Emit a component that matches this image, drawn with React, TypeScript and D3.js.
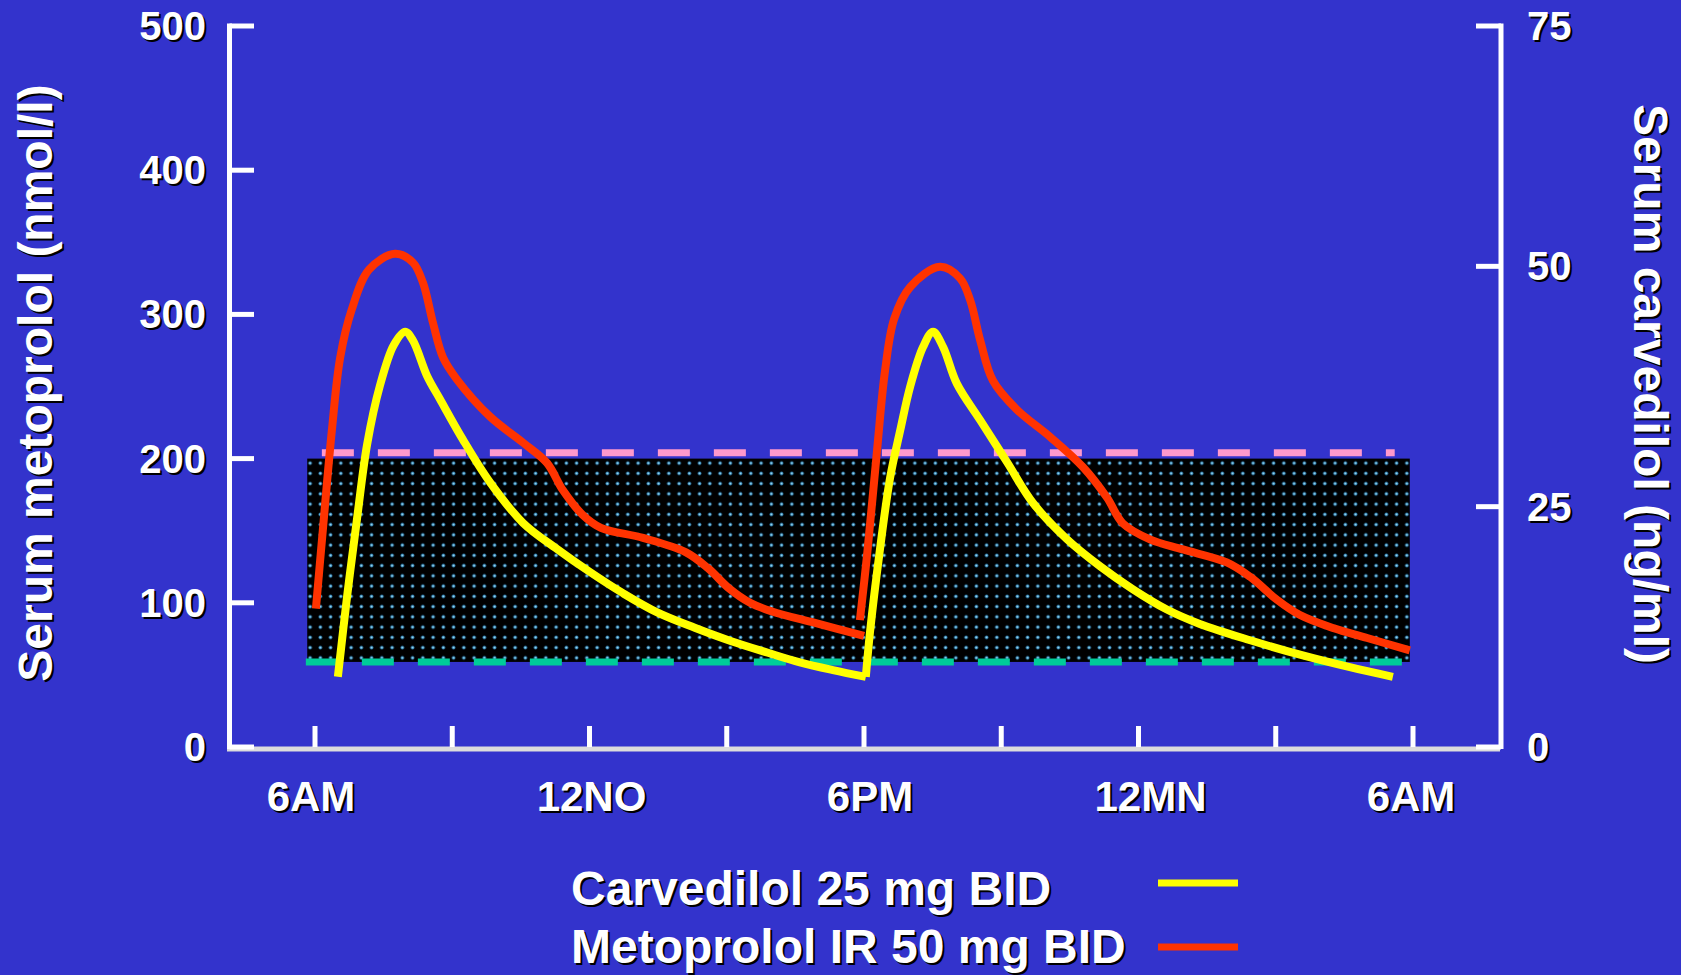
import React from "react";
import * as d3 from "d3";

// ---- Data ----
const leftTicks = [0, 100, 200, 300, 400, 500];
const rightTicks = [0, 25, 50, 75];
const xTickHours = [0, 3, 6, 9, 12, 15, 18, 21, 24];
const xLabelHours = [0, 6, 12, 18, 24];
const xLabelTexts = ["6AM", "12NO", "6PM", "12MN", "6AM"];

// Metoprolol (nmol/l), hours after 6AM
const metoHours1 = [0.02, 0.17, 0.37, 0.55, 0.8, 1.18, 1.75, 2.14, 2.36, 2.58, 2.8, 3.1, 3.83, 4.55, 5.07, 5.42, 5.85, 6.25, 7.17, 8.11, 8.59, 9.05, 9.51, 9.99, 10.93, 12.0];
const metoValues1 = [96, 150, 220, 270, 303, 331, 342, 336, 322, 294, 270, 255, 229, 211, 197, 178, 161, 152, 145, 135, 124, 110, 100, 94, 86, 77];
const metoHours2 = [11.91, 12.07, 12.28, 12.46, 12.66, 13.01, 13.66, 14.1, 14.32, 14.54, 14.82, 15.34, 16.07, 16.79, 17.31, 17.66, 18.25, 18.97, 19.93, 20.44, 21.03, 21.53, 22.25, 23.0, 23.93];
const metoValues2 = [88, 134, 204, 261, 297, 319, 333, 325, 310, 282, 254, 234, 215, 194, 173, 155, 144, 137, 128, 118, 102, 91.5, 82.5, 75.6, 67];

// Carvedilol (ng/ml)
const carvHours1 = [0.5, 0.7, 0.92, 1.14, 1.42, 1.72, 1.97, 2.14, 2.45, 2.73, 3.23, 3.83, 4.55, 5.29, 6.01, 6.73, 7.48, 8.3, 9.1, 9.9, 10.6, 11.32, 12.04];
const carvValues1 = [7.3, 15.6, 23.8, 31.5, 37.6, 41.8, 43.2, 42.3, 38.6, 36.2, 32.0, 27.5, 23.3, 20.6, 18.2, 16.0, 14.0, 12.4, 11.0, 9.8, 8.8, 8.0, 7.3];
const carvHours2 = [12.04, 12.13, 12.35, 12.57, 12.79, 13.01, 13.29, 13.51, 13.73, 14.03, 14.54, 15.13, 15.69, 16.44, 17.16, 17.88, 18.62, 19.34, 20.44, 21.53, 22.62, 23.56];
const carvValues2 = [7.3, 11.9, 20.6, 28.0, 32.9, 37.5, 41.6, 43.2, 41.6, 37.8, 34.0, 29.6, 25.4, 21.6, 18.8, 16.4, 14.3, 12.8, 11.1, 9.6, 8.3, 7.3];

// Therapeutic band (nmol/l) and reference lines
const bandHours = [-0.17, 23.93];
const bandValues = [59, 200];
const pinkLineHours = [0.15, 23.6];
const pinkLineValue = 204;
const tealLineHours = [-0.2, 23.76];
const tealLineValue = 59;

const legendLabels = ["Carvedilol 25 mg BID", "Metoprolol IR 50 mg BID"];

const W = 1681;
const H = 975;
const BG = "#3333cc";
const FONT = "'Liberation Sans', Arial, Helvetica, sans-serif";
const RED = "#ff3300";
const YELLOW = "#ffff00";
const xLabelDx = [-4, 2, 6, 12, -2];

const x = d3.scaleLinear().domain([0, 24]).range([315, 1413]);
const yL = d3.scaleLinear().domain([0, 500]).range([747, 26]);
const yR = d3.scaleLinear().domain([0, 75]).range([747, 26]);

type P = [number, number];
const zip = (a: number[], b: number[]): P[] => a.map((v, i) => [v, b[i]]);

const lineL = d3
  .line<P>()
  .x((d) => x(d[0]))
  .y((d) => yL(d[1]))
  .curve(d3.curveCatmullRom.alpha(0.5));
const lineR = d3
  .line<P>()
  .x((d) => x(d[0]))
  .y((d) => yR(d[1]))
  .curve(d3.curveCatmullRom.alpha(0.5));

function ShadowText(props: any) {
  const { x: tx, y: ty, children, transform, ...rest } = props;
  return (
    <g transform={transform}>
      <text x={tx + 2} y={ty + 2} fill="#000" {...rest}>
        {children}
      </text>
      <text x={tx} y={ty} fill="#fff" {...rest}>
        {children}
      </text>
    </g>
  );
}

function RotText({ cx, cy, angle, text, size }: any) {
  return (
    <g>
      <text
        transform={`translate(${cx + 2},${cy + 2}) rotate(${angle})`}
        textAnchor="middle"
        fontFamily={FONT}
        fontWeight="bold"
        fontSize={size}
        fill="#000"
      >
        {text}
      </text>
      <text
        transform={`translate(${cx},${cy}) rotate(${angle})`}
        textAnchor="middle"
        fontFamily={FONT}
        fontWeight="bold"
        fontSize={size}
        fill="#fff"
      >
        {text}
      </text>
    </g>
  );
}

export default function App() {
  const bx0 = x(bandHours[0]);
  const bx1 = x(bandHours[1]);
  const by0 = yL(bandValues[1]);
  const by1 = yL(bandValues[0]);
  const axisBottom = yL(0);

  return (
    <svg
      width={W}
      height={H}
      viewBox={`0 0 ${W} ${H}`}
      style={{ position: "absolute", left: 0, top: 0, display: "block" }}
    >
      <defs>
        <pattern id="dots" patternUnits="userSpaceOnUse" x={305} y={458} width={10.25} height={10.25}>
          <rect width={10.25} height={10.25} fill="#000" />
          <circle cx={5.1} cy={5.1} r={1.9} fill="#2a78a8" />
          <circle cx={5.1} cy={5.1} r={1.0} fill="#a0e0f8" />
        </pattern>
      </defs>
      <rect width={W} height={H} fill={BG} />

      {/* band */}
      <rect x={bx0} y={by0} width={bx1 - bx0} height={by1 - by0} fill="url(#dots)" />
      {/* pink dashed */}
      <line
        x1={x(pinkLineHours[0])}
        x2={x(pinkLineHours[1])}
        y1={yL(pinkLineValue)}
        y2={yL(pinkLineValue)}
        stroke="#ff99cc"
        strokeWidth={7}
        strokeDasharray="32 24"
      />
      {/* teal dashed */}
      <line
        x1={x(tealLineHours[0])}
        x2={x(tealLineHours[1])}
        y1={yL(tealLineValue)}
        y2={yL(tealLineValue)}
        stroke="#00cc99"
        strokeWidth={7}
        strokeDasharray="32 24"
      />

      {/* curves */}
      <path d={lineL(zip(metoHours1, metoValues1)) || ""} fill="none" stroke={RED} strokeWidth={8} />
      <path d={lineL(zip(metoHours2, metoValues2)) || ""} fill="none" stroke={RED} strokeWidth={8} />
      <path d={lineR(zip(carvHours1, carvValues1)) || ""} fill="none" stroke={YELLOW} strokeWidth={8} />
      <path d={lineR(zip(carvHours2, carvValues2)) || ""} fill="none" stroke={YELLOW} strokeWidth={8} />

      {/* x axis */}
      <line x1={227} x2={1500} y1={axisBottom + 2} y2={axisBottom + 2} stroke="#dcdcdc" strokeWidth={5} />
      {xTickHours.map((h, i) => (
        <line key={i} x1={x(h)} x2={x(h)} y1={axisBottom} y2={axisBottom - 21} stroke="#fff" strokeWidth={5} />
      ))}
      {xLabelHours.map((h, i) => (
        <ShadowText
          key={i}
          x={x(h) + xLabelDx[i]}
          y={811}
          textAnchor="middle"
          fontFamily={FONT}
          fontWeight="bold"
          fontSize={42}
        >
          {xLabelTexts[i]}
        </ShadowText>
      ))}

      {/* left axis */}
      <line x1={229.5} x2={229.5} y1={yL(500) - 2.5} y2={axisBottom + 2} stroke="#fff" strokeWidth={5} />
      {leftTicks.map((t, i) => (
        <g key={i}>
          <line x1={229.5} x2={254} y1={yL(t)} y2={yL(t)} stroke="#fff" strokeWidth={5} />
          <ShadowText
            x={206}
            y={yL(t) + 14}
            textAnchor="end"
            fontFamily={FONT}
            fontWeight="bold"
            fontSize={40}
          >
            {t}
          </ShadowText>
        </g>
      ))}

      {/* right axis */}
      <line x1={1501} x2={1501} y1={yR(75) - 2.5} y2={axisBottom + 2} stroke="#fff" strokeWidth={5} />
      {rightTicks.map((t, i) => (
        <g key={i}>
          <line x1={1476} x2={1501} y1={yR(t)} y2={yR(t)} stroke="#fff" strokeWidth={5} />
          <ShadowText
            x={1527}
            y={yR(t) + 14}
            textAnchor="start"
            fontFamily={FONT}
            fontWeight="bold"
            fontSize={40}
          >
            {t}
          </ShadowText>
        </g>
      ))}

      {/* axis titles */}
      <RotText cx={52} cy={383} angle={-90} text="Serum metoprolol (nmol/l)" size={48} />
      <RotText cx={1634} cy={384} angle={90} text="Serum carvedilol (ng/ml)" size={48} />

      {/* legend */}
      <ShadowText x={571} y={905} fontFamily={FONT} fontWeight="bold" fontSize={48}>
        {legendLabels[0]}
      </ShadowText>
      <ShadowText x={571} y={963} fontFamily={FONT} fontWeight="bold" fontSize={48}>
        {legendLabels[1]}
      </ShadowText>
      <line x1={1158} x2={1238} y1={883} y2={883} stroke={YELLOW} strokeWidth={7} />
      <line x1={1158} x2={1238} y1={947} y2={947} stroke={RED} strokeWidth={7} />
    </svg>
  );
}
